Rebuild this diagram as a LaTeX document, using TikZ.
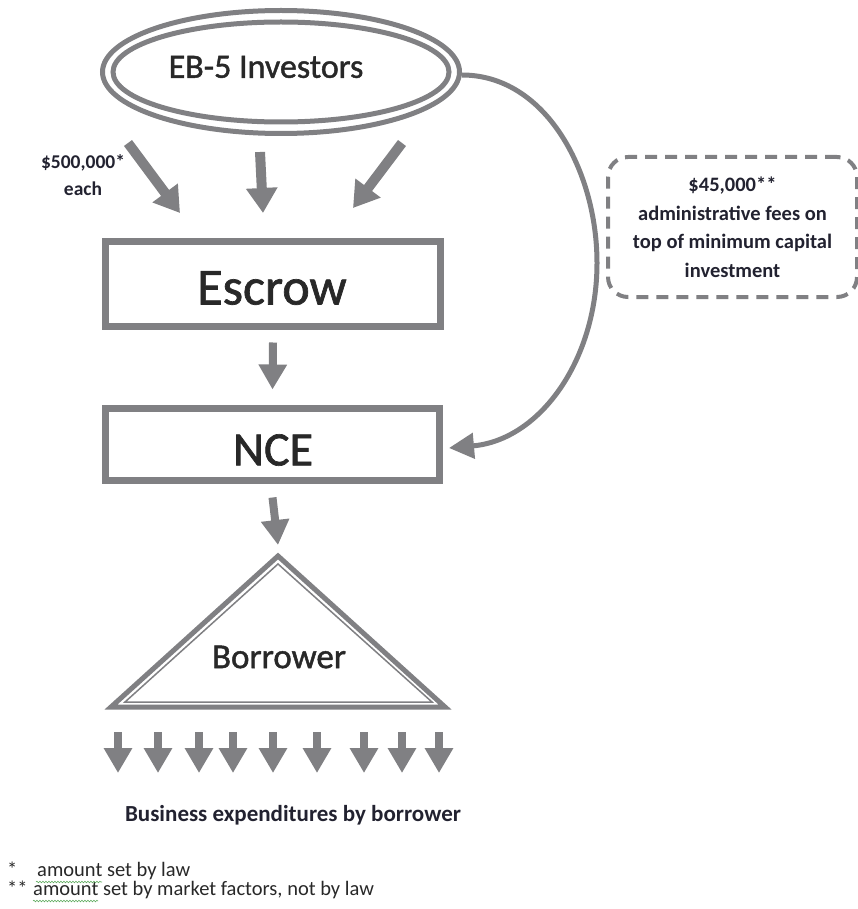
\documentclass[tikz,border=0pt]{standalone}
\usepackage{fontspec}
\setmainfont{Carlito}
\newfontfamily\labelfont{Carlito}[BoldFont=Carlito, BoldFeatures={FakeBold=1.3}]
\usetikzlibrary{arrows.meta, shapes.geometric, decorations.pathmorphing}

\definecolor{flowgray}{RGB}{128,128,131}
\definecolor{labelink}{RGB}{40,40,40}
\definecolor{noteink}{RGB}{34,34,48}
\definecolor{spellgreen}{RGB}{96,172,96}

\begin{document}
\begin{tikzpicture}[x=1pt, y=-1pt,
    fatarrow/.style={draw=flowgray, line width=10pt, -{Triangle[length=25pt, width=30pt]}},
    droparrow/.style={draw=flowgray, line width=8pt, -{Triangle[length=25pt, width=27pt]}},
    feearrow/.style={draw=flowgray, line width=5pt, -{Triangle[length=25pt, width=25pt]}},
    boxouter/.style={draw=flowgray, line width=5pt, rectangle},
    boxinner/.style={draw=flowgray, line width=1.5pt},
    bigtext/.style={text=labelink, inner sep=0pt},
    notetext/.style={text=noteink, font=\bfseries\fontsize{20.5}{28.5}\selectfont, align=center, inner sep=0pt},
    squiggle/.style={draw=spellgreen, line width=0.6pt, decorate, decoration={snake, amplitude=0.8pt, segment length=3pt}}]
    \useasboundingbox (0,0) rectangle (858,909);

    \node[ellipse, minimum width=362pt, minimum height=128pt] (inv) at (281,72) {};
    \draw[flowgray, line width=5pt] (inv.center) ellipse [x radius=178.5pt, y radius=61.5pt];
    \draw[flowgray, line width=5pt] (inv.center) ellipse [x radius=168pt, y radius=50pt];
    \node[bigtext, font=\labelfont\bfseries\fontsize{34}{34}\selectfont] (invtext) at (266,67) {EB-5 Investors};

    \node[notetext, font=\bfseries\fontsize{19.5}{27}\selectfont] (amount) at (83,175) {\$500,000*\\each};

    \node[boxouter, minimum width=337pt, minimum height=87pt] (escrow) at (273,284) {};
    \draw[boxinner] ([shift={(6,6)}]escrow.north west) rectangle ([shift={(-6,-6)}]escrow.south east);
    \node[bigtext, font=\labelfont\bfseries\fontsize{52}{52}\selectfont] (escrowtext) at (272,288) {Escrow};

    \node[boxouter, minimum width=336pt, minimum height=74pt] (nce) at (272.5,444.5) {};
    \draw[boxinner] ([shift={(6,6)}]nce.north west) rectangle ([shift={(-6,-6)}]nce.south east);
    \node[bigtext, font=\labelfont\bfseries\fontsize{48}{48}\selectfont] (ncetext) at (273,450) {NCE};

    \coordinate (apex) at (278,556);
    \draw[flowgray, line width=5pt] (apex) -- (111,707) -- (445,707) -- cycle;
    \draw[boxinner] (278,564) -- (125,702) -- (432,702) -- cycle;
    \node[bigtext, font=\labelfont\bfseries\fontsize{35}{35}\selectfont] (borrower) at (279,657) {Borrower};

    \node[notetext, minimum width=249pt, minimum height=140pt, rounded corners=20pt,
        draw=flowgray, line width=4pt, dash pattern=on 12pt off 8pt] (fees) at (732.5,227)
        {\$45,000**\\administrative fees on\\top of minimum capital\\investment};

    % flows
    \draw[fatarrow] (128,143) -- (180,213);
    \draw[fatarrow] (260,152) -- (263,213);
    \draw[fatarrow] (402,143) -- (353,208);
    \draw[droparrow] ([yshift=-12.5pt]escrow.south) -- ([yshift=15.5pt]nce.north);
    \draw[droparrow] ([yshift=-13.5pt]nce.south) -- ([yshift=11pt]apex);
    \coordinate (feestart) at (462,75);
    \coordinate (feeend) at (449,448);
    \draw[feearrow] (feestart) .. controls (545,75) and (597,170) .. (597,263)
        .. controls (597,360) and (540,440) .. (feeend);

    \foreach \x in {118,158,199,233,273,317,364,402,439}
        \draw[droparrow] (\x,732) -- (\x,773);

    \node[text=noteink, font=\bfseries\fontsize{23}{23}\selectfont] (spend) at (293,815) {Business expenditures by borrower};

    \node[anchor=west, inner sep=0pt, text=labelink, font=\fontsize{20.5}{20.5}\selectfont] (note1) at (7,871)
        {\makebox[30pt][l]{*}amount set by law};
    \node[anchor=west, inner sep=0pt, text=labelink, font=\fontsize{20.5}{20.5}\selectfont] (note2) at (7,890)
        {\makebox[26pt][l]{**}amount set by market factors, not by law};
    \draw[squiggle] (36,882) -- (102,882);
    \draw[squiggle] (33,901) -- (98,901);
\end{tikzpicture}
\end{document}
